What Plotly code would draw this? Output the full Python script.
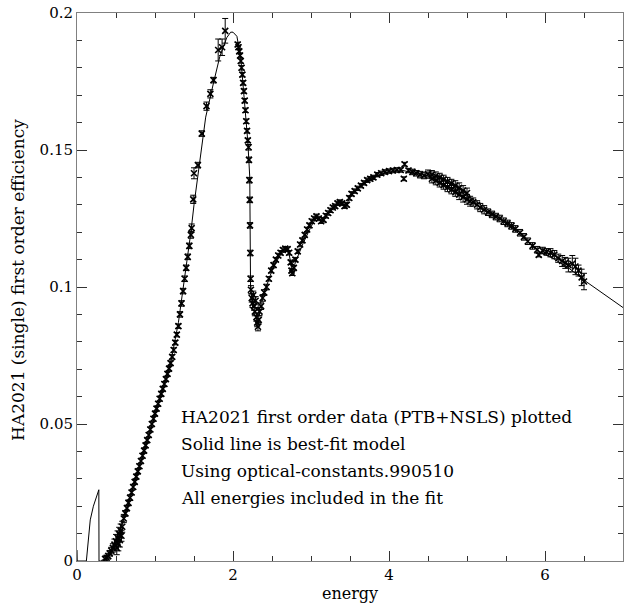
import plotly.graph_objects as go

# measured points: energy, efficiency, 1-sigma error
energy = [
    0.36, 0.38, 0.40, 0.42, 0.44, 0.46, 0.48, 0.50, 0.51, 0.52, 0.53, 0.54, 0.55, 0.56, 0.57, 0.58,
    0.60, 0.62, 0.64, 0.66, 0.68, 0.70, 0.72, 0.74, 0.76, 0.78, 0.80, 0.82, 0.84, 0.86, 0.88, 0.90,
    0.92, 0.94, 0.96, 0.98, 1.00, 1.02, 1.04, 1.06, 1.08, 1.10, 1.12, 1.14, 1.16, 1.18, 1.20, 1.22,
    1.24, 1.26, 1.28, 1.30, 1.32, 1.34, 1.36, 1.38, 1.40, 1.42, 1.44, 1.46, 1.47, 1.49, 1.50, 1.55,
    1.60, 1.66, 1.71, 1.75, 1.81, 1.86, 1.90,
    2.06, 2.07, 2.08, 2.09, 2.10, 2.11, 2.12, 2.13, 2.14, 2.15, 2.16, 2.17, 2.18, 2.19, 2.20, 2.205,
    2.21, 2.215, 2.218, 2.222, 2.226,
    2.23, 2.24, 2.25, 2.26, 2.27, 2.28, 2.29, 2.30, 2.31, 2.32, 2.33, 2.34, 2.36, 2.38, 2.40, 2.43,
    2.46, 2.49, 2.52, 2.55, 2.58, 2.61, 2.64, 2.67, 2.70, 2.72, 2.74, 2.75, 2.76, 2.78, 2.80, 2.83,
    2.86, 2.89, 2.92, 2.95, 2.98, 3.01, 3.04, 3.07, 3.10, 3.13, 3.16, 3.19, 3.22, 3.25, 3.28, 3.31,
    3.34, 3.37, 3.40, 3.43, 3.46, 3.49, 3.52, 3.56, 3.60, 3.64, 3.68, 3.72, 3.76, 3.80, 3.85, 3.90,
    3.95, 4.00, 4.05, 4.10, 4.15, 4.19, 4.20, 4.25, 4.30, 4.35, 4.40, 4.45,
    4.50, 4.55, 4.60, 4.65, 4.70, 4.75, 4.80, 4.85, 4.90, 4.95, 5.00,
    4.55, 4.60, 4.65, 4.70, 4.75, 4.80, 4.85, 4.90, 4.95, 5.00, 5.04,
    5.08, 5.13, 5.17, 5.22, 5.27, 5.32, 5.37, 5.42, 5.47, 5.52, 5.57, 5.62, 5.68, 5.73, 5.78, 5.84,
    5.90, 5.92, 5.97, 6.02, 6.07, 6.12, 6.17, 6.22, 6.26, 6.30, 6.35, 6.39, 6.43, 6.47, 6.50,
]
efficiency = [
    0.0008, 0.0012, 0.0018, 0.0028, 0.0038, 0.0048, 0.0060, 0.0072, 0.0048, 0.0085, 0.0062, 0.0098, 0.0076, 0.0110, 0.0092, 0.0125,
    0.0155, 0.0174, 0.0193, 0.0212, 0.0231, 0.0250, 0.0270, 0.0289, 0.0308, 0.0327, 0.0346, 0.0365, 0.0384, 0.0403, 0.0422, 0.0441,
    0.0460, 0.0480, 0.0500, 0.0519, 0.0538, 0.0556, 0.0574, 0.0592, 0.0610, 0.0628, 0.0646, 0.0664, 0.0683, 0.0702, 0.0722, 0.0745,
    0.0770, 0.0797, 0.0826, 0.0857, 0.0900, 0.0940, 0.0985, 0.1030, 0.1070, 0.1110, 0.1150, 0.1190, 0.1215, 0.1320, 0.1415, 0.1445,
    0.1560, 0.1660, 0.1705, 0.1755, 0.1865, 0.1875, 0.1935,
    0.1885, 0.1875, 0.1860, 0.1845, 0.1825, 0.1800, 0.1775, 0.1745, 0.1715, 0.1680, 0.1645, 0.1605, 0.1570, 0.1535, 0.1510, 0.1464,
    0.1390, 0.1318, 0.1225, 0.1124, 0.1030,
    0.0990, 0.0960, 0.0940, 0.0970, 0.0930, 0.0910, 0.0950, 0.0890, 0.0870, 0.0855, 0.0880, 0.0910, 0.0930, 0.0960, 0.0980, 0.1000,
    0.1030, 0.1060, 0.1080, 0.1100, 0.1115, 0.1125, 0.1135, 0.1140, 0.1138, 0.1125, 0.1090, 0.1060, 0.1050, 0.1070, 0.1100, 0.1130,
    0.1155, 0.1170, 0.1190, 0.1210, 0.1225, 0.1240, 0.1250, 0.1258, 0.1250, 0.1240, 0.1245, 0.1260, 0.1270, 0.1280, 0.1290, 0.1295,
    0.1305, 0.1310, 0.1305, 0.1295, 0.1300, 0.1325, 0.1340, 0.1350, 0.1360, 0.1370, 0.1380, 0.1390, 0.1395, 0.1400, 0.1410, 0.1415,
    0.1420, 0.1423, 0.1425, 0.1427, 0.1427, 0.1395, 0.1448, 0.1425, 0.1420, 0.1415, 0.1410, 0.1407,
    0.1412, 0.1410, 0.1405, 0.1400, 0.1393, 0.1385, 0.1378, 0.1370, 0.1362, 0.1352, 0.1343,
    0.1395, 0.1388, 0.1380, 0.1372, 0.1363, 0.1355, 0.1346, 0.1337, 0.1328, 0.1320, 0.1313,
    0.1310, 0.1300, 0.1290, 0.1282, 0.1273, 0.1265, 0.1257, 0.1250, 0.1240, 0.1232, 0.1223, 0.1212, 0.1198, 0.1183, 0.1167, 0.1150,
    0.1136, 0.1117, 0.1133, 0.1128, 0.1125, 0.1118, 0.1105, 0.1095, 0.1088, 0.1080, 0.1085, 0.1075, 0.1060, 0.1035, 0.1020,
]
error = [
    0.0008, 0.0008, 0.0010, 0.0010, 0.0012, 0.0015, 0.0020, 0.0025, 0.0025, 0.0025, 0.0025, 0.0025, 0.0025, 0.0025, 0.0020, 0.0020,
    0.0015, 0.0010, 0.0010, 0.0010, 0.0010, 0.0008, 0.0008, 0.0008, 0.0008, 0.0008, 0.0008, 0.0008, 0.0008, 0.0008, 0.0008, 0.0008,
    0.0008, 0.0008, 0.0008, 0.0008, 0.0008, 0.0008, 0.0008, 0.0008, 0.0008, 0.0008, 0.0008, 0.0008, 0.0008, 0.0008, 0.0008, 0.0008,
    0.0008, 0.0008, 0.0008, 0.0008, 0.0010, 0.0010, 0.0010, 0.0010, 0.0010, 0.0010, 0.0010, 0.0012, 0.0015, 0.0015, 0.0020, 0.0010,
    0.0010, 0.0015, 0.0015, 0.0010, 0.0040, 0.0030, 0.0045,
    0.0008, 0.0008, 0.0008, 0.0008, 0.0008, 0.0008, 0.0008, 0.0008, 0.0008, 0.0008, 0.0008, 0.0008, 0.0008, 0.0008, 0.0010, 0.0010,
    0.0010, 0.0010, 0.0010, 0.0010, 0.0010,
    0.0015, 0.0015, 0.0015, 0.0015, 0.0015, 0.0015, 0.0015, 0.0015, 0.0015, 0.0015, 0.0015, 0.0015, 0.0012, 0.0012, 0.0010, 0.0010,
    0.0008, 0.0008, 0.0008, 0.0008, 0.0008, 0.0008, 0.0008, 0.0008, 0.0008, 0.0008, 0.0008, 0.0008, 0.0008, 0.0008, 0.0008, 0.0008,
    0.0008, 0.0008, 0.0008, 0.0008, 0.0008, 0.0008, 0.0008, 0.0008, 0.0008, 0.0008, 0.0008, 0.0008, 0.0008, 0.0008, 0.0008, 0.0008,
    0.0008, 0.0008, 0.0008, 0.0008, 0.0008, 0.0008, 0.0008, 0.0008, 0.0008, 0.0008, 0.0008, 0.0008, 0.0008, 0.0008, 0.0008, 0.0008,
    0.0008, 0.0008, 0.0008, 0.0008, 0.0008, 0.0007, 0.0007, 0.0008, 0.0010, 0.0010, 0.0012, 0.0012,
    0.0015, 0.0015, 0.0015, 0.0015, 0.0015, 0.0015, 0.0015, 0.0018, 0.0018, 0.0018, 0.0018,
    0.0015, 0.0015, 0.0015, 0.0015, 0.0015, 0.0015, 0.0015, 0.0018, 0.0018, 0.0018, 0.0018,
    0.0015, 0.0015, 0.0015, 0.0015, 0.0012, 0.0012, 0.0012, 0.0012, 0.0012, 0.0012, 0.0012, 0.0012, 0.0012, 0.0012, 0.0012, 0.0012,
    0.0012, 0.0007, 0.0012, 0.0012, 0.0015, 0.0015, 0.0015, 0.0020, 0.0020, 0.0025, 0.0030, 0.0030, 0.0020, 0.0030, 0.0030,
]

# best-fit model curve
model_energy = [
    0.0, 0.003, 0.12, 0.17, 0.21, 0.28, 0.282, 0.30, 0.33, 0.36, 0.40, 0.45, 0.50, 0.60, 0.70, 0.80,
    0.90, 1.00, 1.10, 1.20, 1.30, 1.40, 1.46, 1.50, 1.58, 1.65, 1.75, 1.83, 1.92, 1.97, 2.00, 2.05,
    2.10, 2.15, 2.19, 2.215, 2.222, 2.225, 2.24, 2.27, 2.30, 2.35, 2.40, 2.50, 2.60, 2.68, 2.72, 2.75,
    2.77, 2.80, 2.90, 3.00, 3.07, 3.12, 3.20, 3.30, 3.38, 3.45, 3.50, 3.60, 3.80, 4.00, 4.15, 4.30,
    4.50, 4.70, 5.00, 5.20, 5.40, 5.60, 5.80, 5.95, 6.10, 6.30, 6.50, 6.70, 6.86, 7.00,
]
model_eff = [
    0.004, 0.0, 0.0, 0.015, 0.020, 0.026, 0.0, 0.0, 0.0005, 0.001, 0.0022, 0.0045, 0.0075, 0.0155, 0.025, 0.0346,
    0.0441, 0.0538, 0.0628, 0.0722, 0.0870, 0.1070, 0.1200, 0.1300, 0.1475, 0.1620, 0.1745, 0.1840, 0.1910, 0.1930, 0.1930, 0.1915,
    0.1835, 0.1665, 0.1530, 0.1400, 0.1200, 0.1000, 0.0960, 0.0930, 0.0920, 0.0940, 0.0980, 0.1060, 0.1115, 0.1135, 0.1120, 0.1070,
    0.1060, 0.1090, 0.1160, 0.1220, 0.1255, 0.1245, 0.1265, 0.1290, 0.1305, 0.1295, 0.1330, 0.1360, 0.1398, 0.1422, 0.1427, 0.1418,
    0.1405, 0.1375, 0.1335, 0.1295, 0.1255, 0.1210, 0.1160, 0.1125, 0.1105, 0.1070, 0.1025, 0.0985, 0.0953, 0.0925,
]

notes = [
    "HA2021 first order data (PTB+NSLS) plotted",
    "Solid line is best-fit model",
    "Using optical-constants.990510",
    "All energies included in the fit",
]
note_y = [0.0525, 0.0427, 0.0329, 0.0230]

FONT = "DejaVu Serif"

fig = go.Figure()

fig.add_trace(go.Scatter(
    x=model_energy, y=model_eff, mode="lines",
    line=dict(color="black", width=1),
    showlegend=False,
))

fig.add_trace(go.Scatter(
    x=energy, y=efficiency, mode="markers",
    marker=dict(symbol="x-thin", size=6, line=dict(color="black", width=1.6), color="black"),
    error_y=dict(type="data", array=error, visible=True, color="black", thickness=1, width=3),
    showlegend=False,
))

for txt, yy in zip(notes, note_y):
    fig.add_annotation(x=1.31, y=yy, xref="x", yref="y", text=txt, showarrow=False,
                       xanchor="left", yanchor="middle",
                       font=dict(family=FONT, size=17, color="black"))

# y title as a rotated annotation so it can sit where the original one does
fig.add_annotation(x=-0.108, y=0.1026, xref="paper", yref="y",
                   text="HA2021 (single) first order efficiency", textangle=-90,
                   showarrow=False, xanchor="center", yanchor="middle",
                   font=dict(family=FONT, size=17, color="black"))

axis_common = dict(
    showline=True, linecolor="#808080", linewidth=1, mirror="ticks",
    ticks="inside", tickcolor="#333333", tickwidth=1,
    showgrid=False, zeroline=False,
    tickfont=dict(family=FONT, size=15, color="black"),
    title_font=dict(family=FONT, size=16, color="black"),
)

fig.update_xaxes(range=[0, 7], dtick=2, tick0=0, ticklen=10,
                 minor=dict(dtick=0.5, ticks="inside", ticklen=5, tickcolor="#333333"),
                 title_text="energy", title_standoff=4, **axis_common)
fig.update_yaxes(range=[0, 0.2], dtick=0.05, tick0=0, ticklen=10,
                 minor=dict(dtick=0.01, ticks="inside", ticklen=5, tickcolor="#333333"),
                 **axis_common)

fig.update_layout(
    width=624, height=604,
    margin=dict(l=77, r=1, t=13, b=43, autoexpand=False),
    paper_bgcolor="white", plot_bgcolor="white",
)

# drop the page's default body margin so the figure sits at the window's corner
fig.write_html("out.html", config={"displayModeBar": False},
               post_script="document.body.style.margin='0';document.body.style.overflow='hidden';")
